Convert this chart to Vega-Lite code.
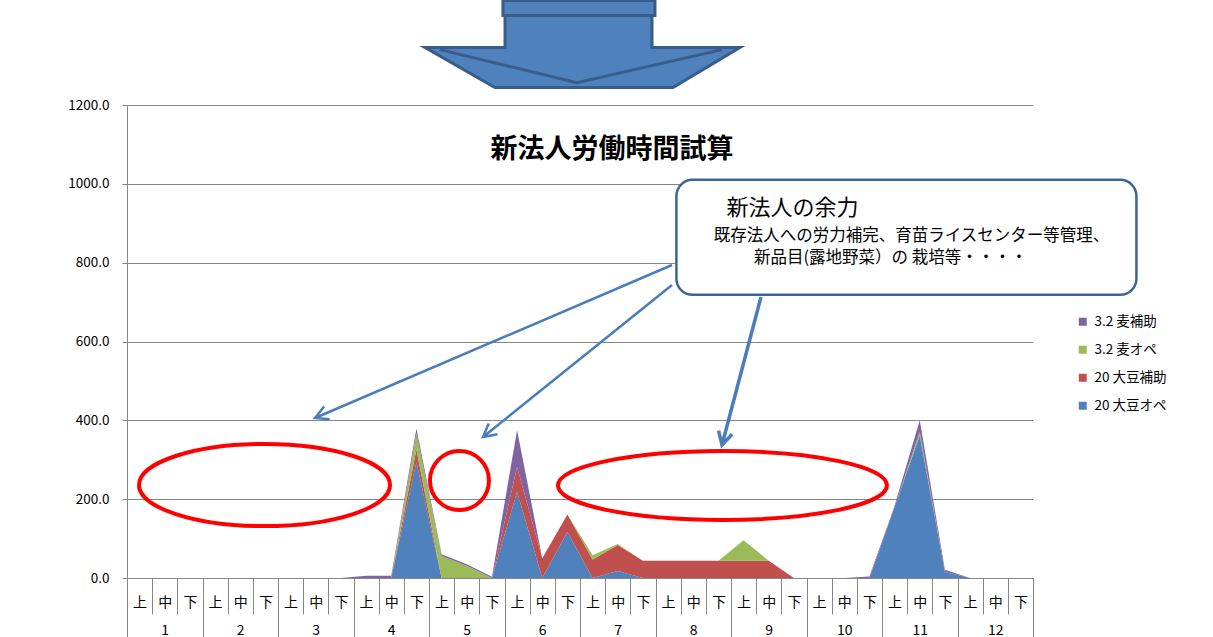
{
  "$schema": "https://vega.github.io/schema/vega-lite/v6.json",
  "width": 906,
  "height": 473,
  "autosize": "none",
  "padding": {"left": 127, "top": 105, "right": 180, "bottom": 59},
  "background": "white",
  "config": {
    "font": "Noto Sans CJK JP",
    "view": {"stroke": null},
    "axis": {"labelColor": "#000000", "labelFont": "Noto Sans CJK JP"}
  },
  "layer": [
    {
      "layer": [
        {
          "data": {
            "values": [
              {"p": "1上", "s": "20 大豆オペ", "v": 0}, {"p": "1上", "s": "20 大豆補助", "v": 0}, {"p": "1上", "s": "3.2 麦オペ", "v": 0}, {"p": "1上", "s": "3.2 麦補助", "v": 0},
              {"p": "1中", "s": "20 大豆オペ", "v": 0}, {"p": "1中", "s": "20 大豆補助", "v": 0}, {"p": "1中", "s": "3.2 麦オペ", "v": 0}, {"p": "1中", "s": "3.2 麦補助", "v": 0},
              {"p": "1下", "s": "20 大豆オペ", "v": 0}, {"p": "1下", "s": "20 大豆補助", "v": 0}, {"p": "1下", "s": "3.2 麦オペ", "v": 0}, {"p": "1下", "s": "3.2 麦補助", "v": 0},
              {"p": "2上", "s": "20 大豆オペ", "v": 0}, {"p": "2上", "s": "20 大豆補助", "v": 0}, {"p": "2上", "s": "3.2 麦オペ", "v": 0}, {"p": "2上", "s": "3.2 麦補助", "v": 0},
              {"p": "2中", "s": "20 大豆オペ", "v": 0}, {"p": "2中", "s": "20 大豆補助", "v": 0}, {"p": "2中", "s": "3.2 麦オペ", "v": 0}, {"p": "2中", "s": "3.2 麦補助", "v": 0},
              {"p": "2下", "s": "20 大豆オペ", "v": 0}, {"p": "2下", "s": "20 大豆補助", "v": 0}, {"p": "2下", "s": "3.2 麦オペ", "v": 0}, {"p": "2下", "s": "3.2 麦補助", "v": 0},
              {"p": "3上", "s": "20 大豆オペ", "v": 0}, {"p": "3上", "s": "20 大豆補助", "v": 0}, {"p": "3上", "s": "3.2 麦オペ", "v": 0}, {"p": "3上", "s": "3.2 麦補助", "v": 0},
              {"p": "3中", "s": "20 大豆オペ", "v": 0}, {"p": "3中", "s": "20 大豆補助", "v": 0}, {"p": "3中", "s": "3.2 麦オペ", "v": 0}, {"p": "3中", "s": "3.2 麦補助", "v": 0},
              {"p": "3下", "s": "20 大豆オペ", "v": 0}, {"p": "3下", "s": "20 大豆補助", "v": 0}, {"p": "3下", "s": "3.2 麦オペ", "v": 0}, {"p": "3下", "s": "3.2 麦補助", "v": 0},
              {"p": "4上", "s": "20 大豆オペ", "v": 0}, {"p": "4上", "s": "20 大豆補助", "v": 0}, {"p": "4上", "s": "3.2 麦オペ", "v": 0}, {"p": "4上", "s": "3.2 麦補助", "v": 6},
              {"p": "4中", "s": "20 大豆オペ", "v": 0}, {"p": "4中", "s": "20 大豆補助", "v": 0}, {"p": "4中", "s": "3.2 麦オペ", "v": 0}, {"p": "4中", "s": "3.2 麦補助", "v": 6},
              {"p": "4下", "s": "20 大豆オペ", "v": 295}, {"p": "4下", "s": "20 大豆補助", "v": 31}, {"p": "4下", "s": "3.2 麦オペ", "v": 41}, {"p": "4下", "s": "3.2 麦補助", "v": 12},
              {"p": "5上", "s": "20 大豆オペ", "v": 0}, {"p": "5上", "s": "20 大豆補助", "v": 0}, {"p": "5上", "s": "3.2 麦オペ", "v": 56}, {"p": "5上", "s": "3.2 麦補助", "v": 4},
              {"p": "5中", "s": "20 大豆オペ", "v": 0}, {"p": "5中", "s": "20 大豆補助", "v": 0}, {"p": "5中", "s": "3.2 麦オペ", "v": 31}, {"p": "5中", "s": "3.2 麦補助", "v": 4},
              {"p": "5下", "s": "20 大豆オペ", "v": 0}, {"p": "5下", "s": "20 大豆補助", "v": 0}, {"p": "5下", "s": "3.2 麦オペ", "v": 0}, {"p": "5下", "s": "3.2 麦補助", "v": 3},
              {"p": "6上", "s": "20 大豆オペ", "v": 219}, {"p": "6上", "s": "20 大豆補助", "v": 63}, {"p": "6上", "s": "3.2 麦オペ", "v": 0}, {"p": "6上", "s": "3.2 麦補助", "v": 93},
              {"p": "6中", "s": "20 大豆オペ", "v": 0}, {"p": "6中", "s": "20 大豆補助", "v": 50}, {"p": "6中", "s": "3.2 麦オペ", "v": 0}, {"p": "6中", "s": "3.2 麦補助", "v": 0},
              {"p": "6下", "s": "20 大豆オペ", "v": 117}, {"p": "6下", "s": "20 大豆補助", "v": 44}, {"p": "6下", "s": "3.2 麦オペ", "v": 0}, {"p": "6下", "s": "3.2 麦補助", "v": 0},
              {"p": "7上", "s": "20 大豆オペ", "v": 0}, {"p": "7上", "s": "20 大豆補助", "v": 47}, {"p": "7上", "s": "3.2 麦オペ", "v": 11}, {"p": "7上", "s": "3.2 麦補助", "v": 0},
              {"p": "7中", "s": "20 大豆オペ", "v": 18}, {"p": "7中", "s": "20 大豆補助", "v": 66}, {"p": "7中", "s": "3.2 麦オペ", "v": 2}, {"p": "7中", "s": "3.2 麦補助", "v": 0},
              {"p": "7下", "s": "20 大豆オペ", "v": 0}, {"p": "7下", "s": "20 大豆補助", "v": 44}, {"p": "7下", "s": "3.2 麦オペ", "v": 0}, {"p": "7下", "s": "3.2 麦補助", "v": 0},
              {"p": "8上", "s": "20 大豆オペ", "v": 0}, {"p": "8上", "s": "20 大豆補助", "v": 44}, {"p": "8上", "s": "3.2 麦オペ", "v": 0}, {"p": "8上", "s": "3.2 麦補助", "v": 0},
              {"p": "8中", "s": "20 大豆オペ", "v": 0}, {"p": "8中", "s": "20 大豆補助", "v": 44}, {"p": "8中", "s": "3.2 麦オペ", "v": 0}, {"p": "8中", "s": "3.2 麦補助", "v": 0},
              {"p": "8下", "s": "20 大豆オペ", "v": 0}, {"p": "8下", "s": "20 大豆補助", "v": 44}, {"p": "8下", "s": "3.2 麦オペ", "v": 0}, {"p": "8下", "s": "3.2 麦補助", "v": 0},
              {"p": "9上", "s": "20 大豆オペ", "v": 0}, {"p": "9上", "s": "20 大豆補助", "v": 44}, {"p": "9上", "s": "3.2 麦オペ", "v": 52}, {"p": "9上", "s": "3.2 麦補助", "v": 0},
              {"p": "9中", "s": "20 大豆オペ", "v": 0}, {"p": "9中", "s": "20 大豆補助", "v": 44}, {"p": "9中", "s": "3.2 麦オペ", "v": 0}, {"p": "9中", "s": "3.2 麦補助", "v": 0},
              {"p": "9下", "s": "20 大豆オペ", "v": 0}, {"p": "9下", "s": "20 大豆補助", "v": 0}, {"p": "9下", "s": "3.2 麦オペ", "v": 0}, {"p": "9下", "s": "3.2 麦補助", "v": 0},
              {"p": "10上", "s": "20 大豆オペ", "v": 0}, {"p": "10上", "s": "20 大豆補助", "v": 0}, {"p": "10上", "s": "3.2 麦オペ", "v": 0}, {"p": "10上", "s": "3.2 麦補助", "v": 0},
              {"p": "10中", "s": "20 大豆オペ", "v": 0}, {"p": "10中", "s": "20 大豆補助", "v": 0}, {"p": "10中", "s": "3.2 麦オペ", "v": 0}, {"p": "10中", "s": "3.2 麦補助", "v": 0},
              {"p": "10下", "s": "20 大豆オペ", "v": 0}, {"p": "10下", "s": "20 大豆補助", "v": 0}, {"p": "10下", "s": "3.2 麦オペ", "v": 0}, {"p": "10下", "s": "3.2 麦補助", "v": 4},
              {"p": "11上", "s": "20 大豆オペ", "v": 180}, {"p": "11上", "s": "20 大豆補助", "v": 0}, {"p": "11上", "s": "3.2 麦オペ", "v": 0}, {"p": "11上", "s": "3.2 麦補助", "v": 3},
              {"p": "11中", "s": "20 大豆オペ", "v": 362}, {"p": "11中", "s": "20 大豆補助", "v": 0}, {"p": "11中", "s": "3.2 麦オペ", "v": 9}, {"p": "11中", "s": "3.2 麦補助", "v": 29},
              {"p": "11下", "s": "20 大豆オペ", "v": 15}, {"p": "11下", "s": "20 大豆補助", "v": 0}, {"p": "11下", "s": "3.2 麦オペ", "v": 0}, {"p": "11下", "s": "3.2 麦補助", "v": 6},
              {"p": "12上", "s": "20 大豆オペ", "v": 0}, {"p": "12上", "s": "20 大豆補助", "v": 0}, {"p": "12上", "s": "3.2 麦オペ", "v": 0}, {"p": "12上", "s": "3.2 麦補助", "v": 0},
              {"p": "12中", "s": "20 大豆オペ", "v": 0}, {"p": "12中", "s": "20 大豆補助", "v": 0}, {"p": "12中", "s": "3.2 麦オペ", "v": 0}, {"p": "12中", "s": "3.2 麦補助", "v": 0},
              {"p": "12下", "s": "20 大豆オペ", "v": 0}, {"p": "12下", "s": "20 大豆補助", "v": 0}, {"p": "12下", "s": "3.2 麦オペ", "v": 0}, {"p": "12下", "s": "3.2 麦補助", "v": 0}
            ]
          },
          "mark": {"type": "area", "interpolate": "linear"},
          "encoding": {
            "x": {
              "field": "p",
              "type": "ordinal",
              "scale": {
                "type": "band",
                "paddingInner": 0,
                "paddingOuter": 0,
                "domain": ["1上","1中","1下","2上","2中","2下","3上","3中","3下","4上","4中","4下","5上","5中","5下","6上","6中","6下","7上","7中","7下","8上","8中","8下","9上","9中","9下","10上","10中","10下","11上","11中","11下","12上","12中","12下"]
              },
              "axis": {
                "orient": "bottom",
                "title": null,
                "labelExpr": "substring(datum.label, length(datum.label) - 1)",
                "labelAngle": 0,
                "tickBand": "extent",
                "tickSize": 36,
                "labelPadding": -19,
                "labelFontSize": 14,
                "labelBaseline": "top",
                "tickColor": "#868686",
                "domainColor": "#868686",
                "grid": false
              }
            },
            "y": {
              "field": "v",
              "type": "quantitative",
              "stack": "zero",
              "scale": {"domain": [0, 1200], "nice": false},
              "axis": {
                "title": null,
                "values": [0, 200, 400, 600, 800, 1000, 1200],
                "format": ".1f",
                "grid": true,
                "gridColor": "#868686",
                "domainColor": "#868686",
                "tickColor": "#868686",
                "tickSize": 5,
                "labelPadding": 13,
                "labelFontSize": 13.5
              }
            },
            "color": {
              "field": "s",
              "type": "nominal",
              "scale": {
                "domain": ["3.2 麦補助", "3.2 麦オペ", "20 大豆補助", "20 大豆オペ"],
                "range": ["#8064A2", "#9BBB59", "#C0504D", "#4F81BD"]
              },
              "legend": {
                "orient": "none",
                "legendX": 949,
                "legendY": 210,
                "title": null,
                "symbolType": "square",
                "symbolSize": 64,
                "symbolStrokeWidth": 0,
                "labelFontSize": 13.5,
                "labelColor": "#000000",
                "rowPadding": 13,
                "labelOffset": 5,
                "padding": 0
              }
            },
            "order": {"field": "s", "sort": "ascending"}
          }
        },
        {
          "data": {"values": [{}]},
          "mark": {"type": "text", "text": "新法人労働時間試算", "fontSize": 27, "fontWeight": "bold", "align": "center", "baseline": "middle", "color": "#000000"},
          "encoding": {"x": {"datum": "7中", "bandPosition": 0.27}, "y": {"datum": 1085.8}}
        },
        {
          "data": {"values": [{}]},
          "mark": {"type": "point", "shape": "M -1 0 A 1 0.327 0 1 0 1 0 A 1 0.327 0 1 0 -1 0 Z", "size": 63001, "filled": false, "stroke": "#FF0000", "strokeWidth": 4, "opacity": 1},
          "encoding": {"x": {"datum": "2下", "bandPosition": 0.464}, "y": {"datum": 235.9}}
        },
        {
          "data": {"values": [{}]},
          "mark": {"type": "point", "shape": "circle", "size": 3481, "filled": false, "stroke": "#FF0000", "strokeWidth": 4, "opacity": 1},
          "encoding": {"x": {"datum": "5中", "bandPosition": 0.21}, "y": {"datum": 247.4}}
        },
        {
          "data": {"values": [{}]},
          "mark": {"type": "point", "shape": "M -1 0 A 1 0.2097 0 1 0 1 0 A 1 0.2097 0 1 0 -1 0 Z", "size": 108241, "filled": false, "stroke": "#FF0000", "strokeWidth": 4, "opacity": 1},
          "encoding": {"x": {"datum": "8下", "bandPosition": 0.66}, "y": {"datum": 234.7}}
        },
        {
          "data": {"values": [{}]},
          "mark": {"type": "point", "shape": "M 0 0 L -3.57 1.53 M -3.423 1.543 L -3.57 1.53 L -3.479 1.415 M 0 0.2 L -1.89 1.72 M -1.745 1.693 L -1.89 1.72 L -1.833 1.584", "size": 40000, "filled": false, "stroke": "#4A7EBB", "strokeWidth": 2.5, "opacity": 1},
          "encoding": {"x": {"datum": "8上", "bandPosition": 0.656}, "y": {"datum": 794.1}}
        },
        {
          "data": {"values": [{}]},
          "mark": {"type": "point", "shape": "M 0 0 L -0.39 1.48 M -0.289 1.372 L -0.39 1.48 L -0.425 1.336", "size": 40000, "filled": false, "stroke": "#4A7EBB", "strokeWidth": 3.5, "opacity": 1},
          "encoding": {"x": {"datum": "9中", "bandPosition": 0.192}, "y": {"datum": 712.9}}
        },
        {
          "data": {"values": [{}]},
          "mark": {"type": "point", "shape": "M -0.93 -0.25 L 0.93 -0.25 A 0.07 0.07 0 0 1 1 -0.18 L 1 0.18 A 0.07 0.07 0 0 1 0.93 0.25 L -0.93 0.25 A 0.07 0.07 0 0 1 -1 0.18 L -1 -0.18 A 0.07 0.07 0 0 1 -0.93 -0.25 Z", "size": 211600, "filled": true, "fill": "#FFFFFF", "stroke": "#3C6595", "strokeWidth": 2.5, "opacity": 1},
          "encoding": {"x": {"datum": "11上", "bandPosition": 0.97}, "y": {"datum": 864.2}}
        },
        {
          "data": {"values": [{}]},
          "mark": {"type": "text", "text": "新法人の余力", "fontSize": 22, "align": "center", "baseline": "middle", "color": "#000000"},
          "encoding": {"x": {"datum": "9下", "bandPosition": 0.44}, "y": {"datum": 938.7}}
        },
        {
          "data": {"values": [{}]},
          "mark": {"type": "text", "text": "既存法人への労力補完、育苗ライスセンター等管理、", "fontSize": 16.5, "align": "center", "baseline": "middle", "color": "#000000"},
          "encoding": {"x": {"datum": "11中", "bandPosition": 0.17}, "y": {"datum": 867.6}}
        },
        {
          "data": {"values": [{}]},
          "mark": {"type": "text", "text": "新品目(露地野菜）の 栽培等・・・・", "fontSize": 16.5, "align": "center", "baseline": "middle", "color": "#000000"},
          "encoding": {"x": {"datum": "11上", "bandPosition": 0.34}, "y": {"datum": 811.8}}
        },
        {
          "data": {"values": [{}]},
          "mark": {"type": "point", "shape": "M -0.494 -0.319 L 0.456 -0.319 L 0.456 -0.225 L -0.494 -0.225 Z M -0.481 -0.225 L 0.4375 -0.225 L 0.4375 -0.025 L 0.9875 -0.025 L 0.569 0.225 L -0.544 0.225 L -0.981 -0.025 L -0.481 -0.025 Z", "size": 102400, "filled": true, "fill": "#4F81BD", "stroke": "#385D8A", "strokeWidth": 3, "opacity": 1},
          "encoding": {"x": {"datum": "7上", "bandPosition": 0.079}, "y": {"datum": 1335.5}}
        },
        {
          "data": {"values": [{}]},
          "mark": {"type": "point", "shape": "M -0.8875 -0.0125 L -0.03125 0.194 L 0.875 -0.0125", "size": 102400, "filled": false, "stroke": "#385D8A", "strokeWidth": 3, "opacity": 1},
          "encoding": {"x": {"datum": "7上", "bandPosition": 0.079}, "y": {"datum": 1335.5}}
        }
      ]
    },
    {
      "data": {"values": [{"m": 1}, {"m": 2}, {"m": 3}, {"m": 4}, {"m": 5}, {"m": 6}, {"m": 7}, {"m": 8}, {"m": 9}, {"m": 10}, {"m": 11}, {"m": 12}]},
      "mark": {"type": "point", "opacity": 0},
      "encoding": {
        "x": {
          "field": "m",
          "type": "ordinal",
          "scale": {"type": "band", "paddingInner": 0, "paddingOuter": 0},
          "axis": {
            "orient": "bottom",
            "title": null,
            "labelAngle": 0,
            "tickBand": "extent",
            "tickSize": 60,
            "labelPadding": -15,
            "labelFontSize": 14,
            "labelBaseline": "top",
            "tickColor": "#868686",
            "domain": false,
            "grid": false
          }
        }
      }
    }
  ],
  "resolve": {"scale": {"x": "independent"}}
}
